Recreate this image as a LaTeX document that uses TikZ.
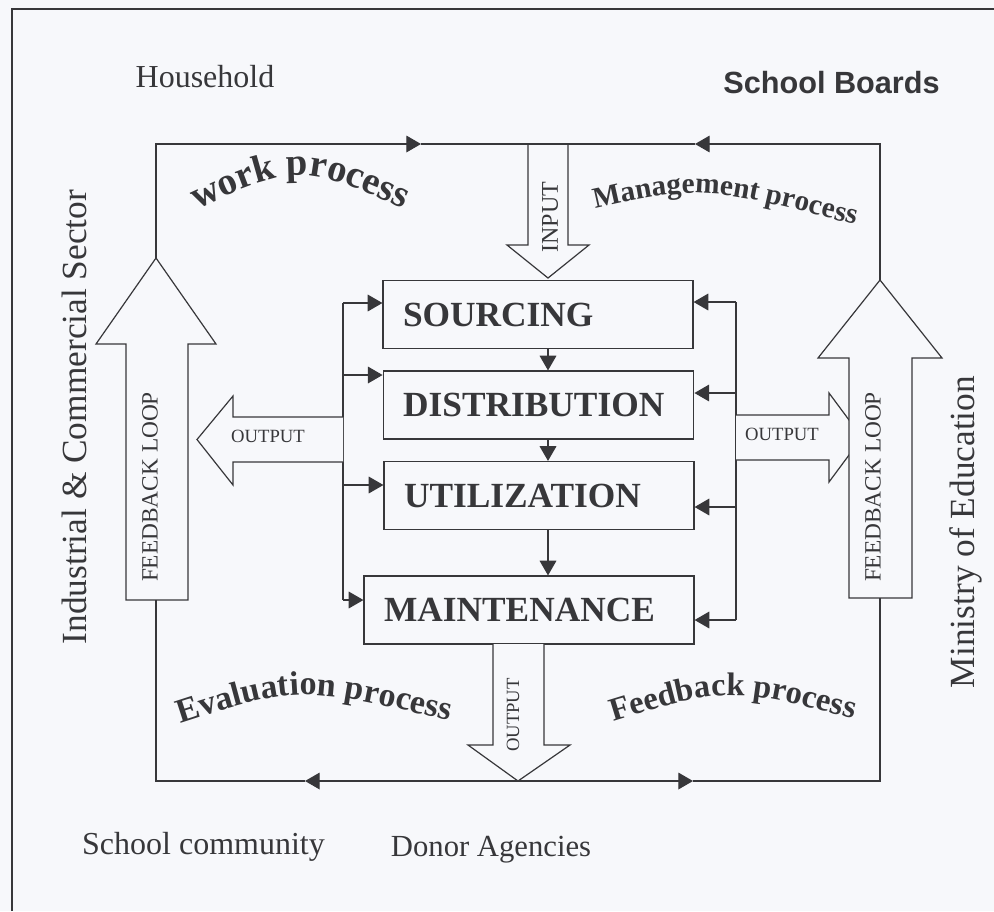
\documentclass[tikz,border=0pt]{standalone}
\usepackage{fontspec}
\setmainfont{Liberation Serif}
\newfontfamily\boardfont{Liberation Sans}
\usetikzlibrary{arrows.meta,positioning,calc,decorations.text}
\definecolor{ink}{RGB}{55,55,58}
\definecolor{paper}{RGB}{247,248,251}
\tikzstyle{wire}=[draw=ink, line width=0.9pt]
\tikzstyle{flow}=[wire, -{Triangle[length=11pt,width=12.5pt]}]
\tikzstyle{fat}=[wire, fill=paper]
\tikzstyle{stage}=[wire, minimum height=51pt, inner xsep=15pt, align=left, text=ink, font=\fontsize{26.5}{26.5}\selectfont\bfseries]
\tikzstyle{place}=[text=ink, font=\fontsize{24}{24}\selectfont]
\tikzstyle{tag}=[text=ink, font=\fontsize{14}{14}\selectfont]
\newcommand{\arcfont}[1]{\fontsize{#1}{#1}\selectfont\bfseries}
% curved label: size, text, path
\newcommand{\arclabel}[3]{%
    \path[decorate, decoration={text along path, text={|\arcfont{#1}|#2}, text align=center, text color=ink}] #3;}

\begin{document}
\begin{tikzpicture}[x=0.75pt, y=-0.75pt]
    \fill[paper] (0,0) rectangle (994,911);
    \useasboundingbox (0,0) rectangle (994,911);
    \draw[wire] (12,911) |- (994,9);

    % the four stages
    \foreach \pos/\name/\w/\txt in {{(538,314.5)/sourcing/202.5pt/SOURCING}, {(538.5,405)/distribution/203pt/DISTRIBUTION}, {(539,495.5)/utilization/202.5pt/UTILIZATION}, {(529,610)/maintenance/217.5pt/MAINTENANCE}}
        \node[stage, text width=\w] (\name) at \pos {\txt};

    % input from the top
    \coordinate (intop) at (548,144);
    \coordinate (intip) at (548,278);
    \draw[fat] (528,144) -- (528,245) -- (507,245) -- (intip) -- (589,245) -- (568,245) -- (568,144);
    \node[tag, font=\fontsize{18}{18}\selectfont, rotate=90] (input) at (550,217) {INPUT};

    \foreach \a/\b in {sourcing/distribution, distribution/utilization, utilization/maintenance}
        \draw[flow] (\a.south -| intip) -- (\b.north -| intip);

    % the two buses
    \coordinate (lbus) at (343,303);
    \coordinate (rbus) at (736,302);
    \draw[wire] (lbus) -- (343,600);
    \draw[wire] (rbus) -- (736,620);
    \foreach \name/\y in {sourcing/303, distribution/375, utilization/485, maintenance/600}
        \draw[flow] (lbus |- 0,\y) -- (\name.west |- 0,\y);
    \foreach \name/\y in {sourcing/302, distribution/393, utilization/507, maintenance/620}
        \draw[flow] (rbus |- 0,\y) -- (\name.east |- 0,\y);

    % outputs
    \draw[fat] (343,417) -- (233,417) -- (233,396) -- (197,439.5) -- (233,485) -- (233,462) -- (343,462);
    \node[tag] (outleft) at (268,436) {OUTPUT};
    \draw[fat] (736,415) -- (829,415) -- (829,393) -- (862,437.5) -- (829,482) -- (829,460) -- (736,460);
    \node[tag] (outright) at (782,434) {OUTPUT};
    \coordinate (btip) at (518,781);
    \draw[fat] (493,644) -- (493,745) -- (468,745) -- (btip) -- (570,745) -- (544,745) -- (544,644);
    \node[tag, rotate=90] (outbottom) at (513,715) {OUTPUT};

    % feedback loops
    \coordinate (ltip) at (156,258);
    \coordinate (lfoot) at (156,600);
    \coordinate (rtip) at (880,280);
    \coordinate (rfoot) at (880,598);
    \draw[fat] (ltip) -- (216,344) -- (188,344) -- (188,600) -- (126,600) -- (126,344) -- (96,344) -- cycle;
    \draw[fat] (rtip) -- (942,358) -- (912,358) -- (912,598) -- (849,598) -- (849,358) -- (818,358) -- cycle;
    \node[tag, font=\fontsize{17.5}{17.5}\selectfont, rotate=90] (fbleft) at (150,487) {FEEDBACK LOOP};
    \node[tag, font=\fontsize{17.5}{17.5}\selectfont, rotate=90] (fbright) at (873,487) {FEEDBACK LOOP};

    % the outer loop
    \coordinate (tl) at (421,144);
    \coordinate (tr) at (695,144);
    \coordinate (bl) at (305,781);
    \coordinate (br) at (693,781);
    \draw[flow] (ltip) |- (tl);
    \draw[wire] (tl) -- (intop);
    \draw[flow] (rtip) |- (tr);
    \draw[wire] (tr) -- (intop);
    \draw[flow] (btip) -- (bl);
    \draw[wire] (bl) -| (lfoot);
    \draw[flow] (btip) -- (br);
    \draw[wire] (br) -| (rfoot);

    % process names
    \arclabel{29}{work process}{(170,222) .. controls (300,160) .. (430,222)}
    \arclabel{22}{Management process}{(575,213) .. controls (700,184) .. (875,230)}
    \arclabel{25.5}{Evaluation process}{(160,730) .. controls (300,684) .. (470,726)}
    \arclabel{24.5}{Feedback process}{(592,728) .. controls (730,685) .. (875,725)}

    % the parties round it
    \node[place] (household) at (205,77) {Household};
    \node[text=ink, font=\boardfont\fontsize{23}{23}\selectfont\bfseries] (boards) at (831.5,83) {School Boards};
    \node[place, font=\fontsize{26.5}{26.5}\selectfont, rotate=90] (industry) at (74,417) {Industrial \& Commercial Sector};
    \node[place, font=\fontsize{26.5}{26.5}\selectfont, rotate=90] (ministry) at (966,532) {Ministry of Education};
    \node[place] (community) at (203.5,847) {School community};
    \node[place, font=\fontsize{23}{23}\selectfont] (donors) at (491,850) {Donor Agencies};
\end{tikzpicture}
\end{document}
